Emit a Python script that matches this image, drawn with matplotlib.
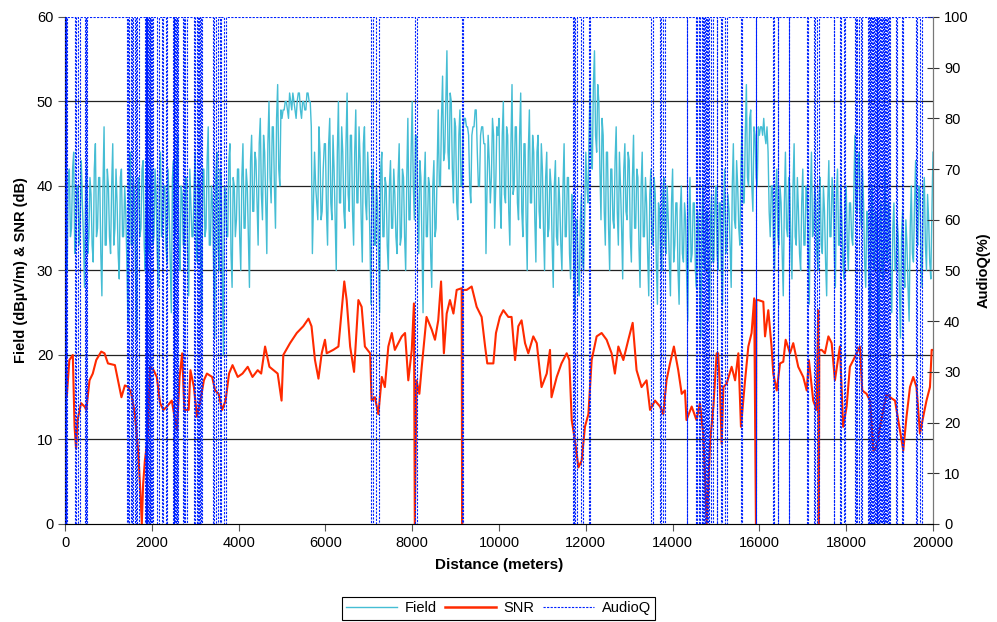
import numpy as np
import matplotlib.pyplot as plt
from matplotlib.lines import Line2D

plt.rcParams['font.family'] = ['Liberation Sans', 'DejaVu Sans']

# ------------------------------------------------------------
# Field strength, read off every 50 m (one row = 1 km)
# ------------------------------------------------------------
field_rows = [
    [47, 30, 42, 35, 44, 33, 40, 36, 38, 28, 42, 34, 39, 31, 45, 35, 41, 27, 47, 33],
    [40, 32, 45, 35, 38, 29, 42, 34, 37, 24, 44, 33, 39, 22, 41, 35, 43, 30, 38, 33],
    [42, 34, 39, 28, 44, 36, 40, 31, 37, 25, 43, 35, 46, 30, 39, 33, 41, 27, 38, 34],
    [44, 31, 40, 25, 42, 35, 47, 33, 38, 22, 44, 30, 41, 20, 39, 34, 45, 28, 40, 36],
    [42, 30, 45, 35, 40, 28, 46, 37, 43, 33, 48, 36, 44, 32, 50, 38, 47, 35, 52, 40],
    [48, 49, 50, 48, 50, 51, 49, 50, 51, 48, 50, 49, 51, 50, 32, 44, 38, 47, 36, 42],
    [45, 33, 48, 36, 42, 30, 50, 38, 44, 35, 51, 37, 46, 33, 49, 38, 43, 31, 47, 36],
    [40, 26, 42, 33, 38, 25, 44, 34, 40, 30, 43, 35, 39, 32, 45, 34, 41, 30, 48, 36],
    [50, 36, 46, 32, 41, 25, 44, 34, 40, 28, 43, 35, 49, 40, 53, 44, 56, 42, 50, 38],
    [47, 36, 49, 40, 48, 47, 46, 38, 47, 49, 44, 40, 47, 45, 32, 46, 38, 48, 35, 47],
    [48, 35, 50, 38, 46, 33, 52, 40, 47, 36, 51, 34, 45, 30, 49, 38, 44, 31, 46, 35],
    [42, 30, 44, 35, 40, 28, 43, 33, 38, 30, 45, 34, 41, 29, 38, 25, 36, 27, 39, 30],
    [44, 38, 52, 42, 56, 44, 50, 36, 46, 33, 44, 30, 42, 35, 47, 33, 40, 29, 45, 36],
    [43, 31, 46, 35, 41, 28, 44, 34, 38, 27, 42, 33, 39, 26, 37, 30, 41, 32, 36, 27],
    [42, 33, 38, 26, 40, 31, 36, 24, 41, 32, 38, 28, 35, 22, 40, 30, 37, 25, 39, 31],
    [40, 30, 38, 26, 42, 33, 37, 28, 45, 35, 40, 33, 47, 38, 52, 40, 49, 37, 46, 40],
    [46, 47, 48, 45, 44, 34, 40, 30, 42, 33, 38, 27, 44, 34, 40, 29, 45, 33, 37, 30],
    [42, 33, 39, 26, 44, 35, 38, 30, 41, 32, 37, 27, 43, 34, 39, 28, 42, 33, 36, 29],
    [40, 30, 38, 33, 46, 37, 44, 35, 38, 28, 36, 24, 40, 30, 35, 22, 38, 29, 42, 31],
    [36, 25, 38, 30, 34, 22, 37, 28, 33, 24, 40, 31, 43, 33, 39, 28, 41, 30, 36, 29],
]
# core-band readings in between (25 m after each value above)
field_mid_rows = [
    [33, 41, 34, 42, 32, 40, 33, 43, 34, 40, 32, 41, 33, 42, 34, 41, 32, 40, 33, 42],
    [34, 40, 33, 42, 32, 41, 34, 40, 31, 42, 33, 41, 30, 40, 34, 42, 33, 41, 32, 40],
    [33, 42, 32, 41, 34, 40, 33, 42, 31, 41, 34, 43, 32, 40, 33, 41, 32, 42, 34, 40],
    [33, 41, 32, 42, 34, 43, 33, 40, 30, 41, 33, 42, 29, 40, 34, 43, 32, 41, 34, 42],
    [34, 41, 35, 42, 34, 43, 37, 44, 38, 45, 39, 46, 38, 45, 41, 47, 40, 48, 42, 49],
    [49, 50, 49, 51, 49, 50, 48, 51, 49, 50, 49, 51, 50, 47, 38, 40, 36, 44, 37, 45],
    [37, 45, 38, 46, 36, 44, 38, 47, 37, 45, 39, 46, 37, 44, 38, 47, 36, 45, 38, 44],
    [34, 41, 33, 40, 32, 42, 34, 41, 33, 40, 35, 42, 34, 41, 33, 42, 34, 41, 36, 44],
    [40, 46, 37, 43, 33, 40, 34, 41, 32, 40, 34, 42, 40, 48, 43, 50, 44, 51, 42, 48],
    [38, 46, 40, 47, 48, 47, 40, 46, 47, 49, 40, 46, 47, 45, 40, 43, 41, 46, 40, 46],
    [38, 46, 39, 47, 37, 45, 39, 47, 38, 46, 37, 45, 36, 44, 38, 46, 36, 44, 37, 45],
    [35, 41, 34, 42, 33, 40, 34, 41, 33, 40, 34, 41, 32, 39, 30, 36, 29, 36, 31, 37],
    [40, 46, 44, 52, 46, 52, 42, 48, 37, 44, 35, 42, 36, 43, 37, 44, 35, 42, 37, 44],
    [34, 41, 35, 42, 33, 40, 34, 41, 32, 39, 34, 41, 31, 38, 32, 39, 33, 40, 31, 38],
    [31, 38, 30, 37, 32, 38, 29, 36, 31, 38, 30, 37, 29, 36, 31, 37, 29, 36, 31, 38],
    [32, 38, 30, 37, 32, 39, 33, 40, 36, 43, 35, 42, 38, 46, 41, 48, 40, 47, 41, 47],
    [47, 46, 46, 47, 37, 40, 33, 39, 34, 40, 32, 38, 35, 41, 33, 40, 34, 41, 32, 38],
    [33, 40, 32, 39, 34, 40, 32, 39, 33, 40, 31, 38, 34, 41, 32, 39, 33, 40, 31, 38],
    [33, 38, 34, 39, 38, 43, 37, 42, 31, 37, 29, 36, 31, 37, 28, 35, 30, 36, 32, 38],
    [29, 35, 30, 36, 28, 34, 30, 36, 28, 35, 32, 38, 34, 40, 32, 38, 33, 39, 31, 37],
]
field_last = 44

# ------------------------------------------------------------
# SNR (dB) at the distances where it was read
# ------------------------------------------------------------
snr_dist = [0, 40, 100, 180, 220, 255, 290, 370, 450, 490, 565, 640, 720, 835, 910, 990,
            1150, 1220, 1300, 1380, 1460, 1530, 1610, 1690, 1730, 1770, 1800, 1840, 1900,
            1960, 2040, 2115, 2190, 2270, 2350, 2460, 2540, 2580, 2640, 2700, 2750, 2850,
            2890, 2970, 3040, 3120, 3200, 3270, 3390, 3460, 3540, 3620, 3700, 3780, 3860,
            3980, 4090, 4210, 4320, 4440, 4520, 4610, 4710, 4900, 4990, 5030, 5185, 5340,
            5490, 5610, 5680, 5760, 5840, 5915, 5990, 6030, 6180, 6300, 6375, 6435, 6490,
            6570, 6660, 6760, 6835, 6910, 7030, 7065, 7140, 7220, 7300, 7370, 7450, 7530,
            7600, 7680, 7760, 7835, 7910, 7990, 8040, 8060, 8100, 8165, 8220, 8330, 8450,
            8525, 8600, 8665, 8730, 8795, 8870, 8950, 9025, 9140, 9150, 9160, 9255, 9370,
            9485, 9600, 9680, 9730, 9870, 9930, 10020, 10100, 10215, 10290, 10370, 10445,
            10520, 10600, 10675, 10790, 10870, 10980, 11100, 11175, 11210, 11330, 11440,
            11560, 11620, 11675, 11750, 11830, 11905, 11980, 12060, 12135, 12250, 12365,
            12480, 12595, 12670, 12750, 12865, 12980, 13080, 13170, 13285, 13400, 13480,
            13595, 13710, 13785, 13860, 13940, 14030, 14130, 14210, 14285, 14320, 14440,
            14550, 14630, 14705, 14745, 14785, 14820, 14860, 14940, 15015, 15050, 15090,
            15130, 15170, 15245, 15360, 15440, 15515, 15575, 15670, 15745, 15820, 15880,
            15920, 15930, 15975, 16090, 16130, 16205, 16280, 16320, 16400, 16475, 16550,
            16605, 16705, 16780, 16895, 17010, 17090, 17140, 17240, 17320, 17355, 17370,
            17380, 17435, 17510, 17590, 17665, 17740, 17855, 17930, 18010, 18085, 18165,
            18240, 18315, 18370, 18470, 18550, 18625, 18700, 18780, 18855, 18930, 19010,
            19125, 19200, 19315, 19390, 19470, 19545, 19620, 19700, 19775, 19850, 19930,
            19970, 20000]
snr_val = [23.4, 15, 19.4, 20, 11.5, 8.9, 12.3, 14.3, 13.9, 13.5, 17, 17.8, 19.4, 20.4, 20.2, 19,
           18.8, 17, 15, 16.4, 16.2, 15.4, 13, 8.3, 4.4, 0, 4.7, 7.5, 9.9,
           18.6, 18.2, 17.4, 14.3, 13.5, 13.9, 14.6, 12.3, 11.1, 17.4, 20.2, 13.5, 13.5,
           18.2, 16.2, 12.7, 14.6, 17, 17.8, 17.4, 15.8, 15.4, 13.5, 14.6, 17.8, 18.8,
           17.4, 17.8, 18.6, 17.4, 18.2, 17.8, 21, 18.6, 17.8, 14.6, 20, 21.4, 22.6,
           23.4, 24.3, 23.4, 19.4, 17.2, 20.2, 21.8, 20.2, 20.6, 21, 25.3, 28.7, 26.5,
           21, 18, 26.5, 25.7, 21, 20.2, 14.6, 15, 13, 17.4, 16.2, 21, 22.6,
           20.6, 21.4, 22.2, 22.6, 17, 20.6, 26.1, 0, 17, 15.4, 18.6, 24.5, 23,
           21.8, 24.1, 28.7, 20.2, 24.9, 26.5, 24.9, 27.7, 27.9, 0, 27.7, 27.7, 28.1,
           25.7, 24.5, 21, 19, 19, 22.6, 24.5, 25.3, 24.5, 24.5, 19.4, 23.4,
           24.1, 21.4, 20.2, 22.2, 21.4, 16.2, 17.8, 20.6, 15, 17.4, 19,
           20.2, 19.4, 12.3, 9.9, 6.7, 7.5, 11.5, 13, 19.4, 22.2, 22.6,
           21.8, 20.2, 17.8, 21, 19.4, 21.8, 23.8, 18.2, 16.2, 17, 13.5,
           14.6, 13.9, 13, 17, 19, 21, 18.2, 15.4, 15.8, 12.3, 13.9,
           12.3, 14.3, 10.7, 6, 0, 4, 9.5, 13.9, 20.2, 20.2, 16.2,
           9.5, 16.2, 16.6, 18.6, 17, 20.2, 11.5, 17, 21, 22.6, 26.7,
           0, 26.5, 26.5, 26.3, 22.2, 25.3, 21, 17.8, 15.8, 19, 19.2,
           21.8, 20.2, 21.4, 18.6, 17.4, 15.8, 19.4, 14.6, 13.5, 25.3, 0,
           20.6, 20.6, 20.2, 22.2, 21.4, 17, 21, 11.5, 13.9, 18.6, 19.4,
           20.2, 21, 15.8, 15.4, 14.6, 8.7, 9.1, 11.5, 13.5, 15.4, 15,
           14.6, 12.3, 8.7, 12.7, 16.2, 17.4, 16.2, 10.7, 12.7, 14.6, 16.2,
           20.6, 20.6]

# ------------------------------------------------------------
# AudioQ (%): 100 everywhere except these zero stretches (m)
# ------------------------------------------------------------
audio_drop_start = [0, 30, 230, 290, 460, 490, 1430, 1480, 1540, 1610, 1670,
                    1840, 1870, 1900, 1930, 1960, 2000, 2120, 2240, 2320,
                    2490, 2520, 2550, 2580, 2720, 2770, 2970, 3030, 3090, 3140,
                    3410, 3490, 3570, 3660, 7050, 7170, 8060, 9150,
                    11700, 11760, 11890, 12070, 13500, 13710, 13780, 14330,
                    14540, 14600, 14680, 14720, 14760, 14820, 14880, 15020,
                    15110, 15200, 15580, 15920, 16310, 16430, 16680, 17100,
                    17260, 17330, 17720, 17860, 17940, 18200, 18260, 18330,
                    18500, 18540, 18580, 18620, 18660, 18700, 18740, 18780,
                    18820, 18860, 18900, 18940, 18980, 19150, 19280, 19610, 19710]
audio_drop_end = [15, 55, 260, 350, 480, 510, 1460, 1520, 1570, 1630, 1700,
                  1860, 1890, 1920, 1950, 1980, 2030, 2170, 2260, 2350,
                  2510, 2540, 2570, 2600, 2740, 2810, 3000, 3060, 3120, 3160,
                  3440, 3530, 3600, 3710, 7100, 7240, 8110, 9160,
                  11730, 11800, 11940, 12090, 13550, 13740, 13820, 14340,
                  14560, 14630, 14700, 14740, 14790, 14850, 14930, 15030,
                  15140, 15250, 15590, 15930, 16340, 16440, 16690, 17120,
                  17290, 17370, 17730, 17890, 17970, 18230, 18290, 18360,
                  18520, 18560, 18600, 18640, 18680, 18720, 18760, 18800,
                  18840, 18880, 18920, 18960, 19010, 19180, 19310, 19640, 19750]

# --- series assembly ---
field_a = np.array(field_rows).ravel()
field_b = np.array(field_mid_rows).ravel()
field_val = list(np.column_stack([field_a, field_b]).ravel()) + [field_last]
field_dist = np.arange(len(field_val)) * 25

aq_x, aq_y = [], []
for s, e in zip(audio_drop_start, audio_drop_end):
    aq_x += [s, s, e, e]
    aq_y += [100, 0, 0, 100]
aq_x = [0] + aq_x + [20000]
aq_y = [100] + aq_y + [100]

# --- drawing ---
fig = plt.figure(figsize=(9.97, 6.22), dpi=100)
ax = fig.add_axes([0.0652, 0.1576, 0.8706, 0.8151])

field_color = '#45BDD4'
snr_color = '#FF2A00'
aq_color = '#0022FF'

for yv in [10, 20, 30, 40, 50]:
    ax.axhline(yv, color='#222222', lw=0.9, zorder=0)

ax.plot(field_dist, field_val, color=field_color, lw=1.0, zorder=2)
ax.plot(snr_dist, snr_val, color=snr_color, lw=1.5, zorder=3)

ax.set_xlim(0, 20000)
ax.set_ylim(0, 60)
ax.set_xticks(np.arange(0, 20001, 2000))
ax.set_yticks(np.arange(0, 61, 10))
ax.tick_params(axis='both', direction='out', length=5, labelsize=10.5, color='#555555')
ax.spines['top'].set_visible(False)
for side in ['left', 'bottom', 'right']:
    ax.spines[side].set_color('#777777')
ax.set_xlabel('Distance (meters)', fontsize=11, fontweight='bold', labelpad=6)
ax.set_ylabel('Field (dBµV/m) & SNR (dB)', fontsize=10.5, fontweight='bold', labelpad=6)

ax2 = ax.twinx()
ax2.plot(aq_x, aq_y, color=aq_color, lw=0.8, ls=(0, (2, 1.2)), zorder=4)
ax2.set_ylim(0, 100)
ax2.set_yticks(np.arange(0, 101, 10))
ax2.tick_params(axis='y', direction='inout', length=9, labelsize=10.5, color='#333333')
ax2.spines['top'].set_visible(False)
ax2.spines['right'].set_color('#777777')
ax2.set_ylabel('AudioQ(%)', fontsize=10.5, fontweight='bold', labelpad=6)

handles = [Line2D([], [], color=field_color, lw=1),
           Line2D([], [], color=snr_color, lw=1.8),
           Line2D([], [], color=aq_color, lw=0.8, ls=(0, (2, 1.2)))]
leg = fig.legend(handles, ['Field', 'SNR', 'AudioQ'], loc='center',
                 bbox_to_anchor=(0.5, 0.022), ncol=3, fontsize=10.5, fancybox=False,
                 edgecolor='black', framealpha=1, handlelength=3.5, columnspacing=0.6,
                 handletextpad=0.5, borderpad=0.3)
leg.get_frame().set_linewidth(0.8)

plt.savefig('out.png', dpi=100)
